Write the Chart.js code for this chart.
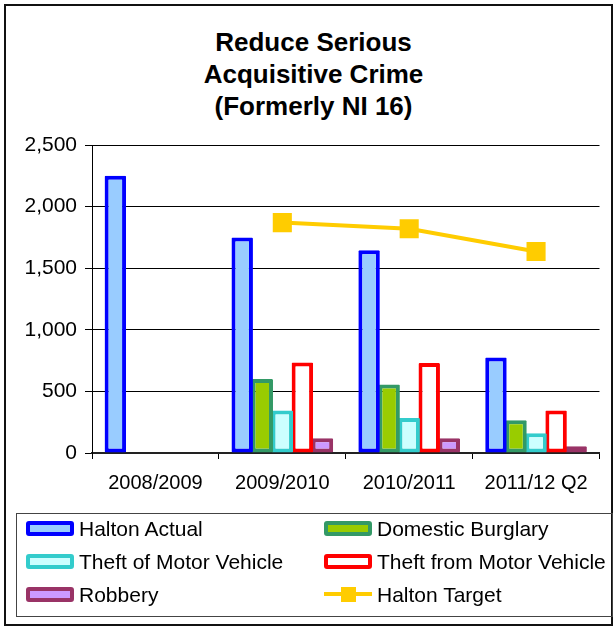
<!DOCTYPE html>
<html>
<head>
<meta charset="utf-8">
<title>Reduce Serious Acquisitive Crime</title>
<script src="https://cdn.jsdelivr.net/npm/chart.js@4"></script>
<style>
    body { margin: 0; background: #fff; font-family: "Liberation Sans", Arial, sans-serif; }
    #wrap { position: relative; width: 613px; height: 629px; overflow: hidden; }
    #frame { position: absolute; left: 4px; top: 4px; width: 609px; height: 622px; box-sizing: border-box; border: 2px solid #111; }
    #title { position: absolute; left: 0; top: 26px; width: 627px; text-align: center; font-weight: bold; font-size: 26px; line-height: 32px; color: #000; }
    #chart { position: absolute; left: 0; top: 0; }
    #legend { position: absolute; left: 16px; top: 513px; width: 597px; height: 104px; box-sizing: border-box; border: 1px solid #444;
              display: grid; grid-template-columns: 298px 298px; grid-auto-rows: 15px; row-gap: 18px; padding: 7px 0 0 9px; }
    .item { display: flex; align-items: center; font-size: 21px; color: #000; white-space: nowrap; }
    .swatch { width: 48px; height: 15px; box-sizing: border-box; border-width: 4px; border-style: solid; border-radius: 3px; margin-right: 5px; flex: none; }
    .lineswatch { position: relative; width: 48px; height: 15px; margin-right: 5px; flex: none; }
    .lineswatch::before { content: ""; position: absolute; left: 0; right: 0; top: 5px; height: 4px; background: var(--c); }
    .lineswatch::after { content: ""; position: absolute; left: 17px; top: 0; width: 15px; height: 15px; background: var(--c); }
</style>
</head>
<body>
<div id="wrap">
    <div id="frame"></div>
    <div id="title">Reduce Serious<br>Acquisitive Crime<br>(Formerly NI 16)</div>
    <canvas id="chart" width="613" height="629"></canvas>
    <div id="legend"></div>
</div>
<script>
const years = ['2008/2009', '2009/2010', '2010/2011', '2011/12 Q2'];

const haltonActual = [2250, 1750, 1645, 775];
const domesticBurglary = [null, 600, 555, 265];
const theftOfVehicle = [null, 345, 285, 160];
const theftFromVehicle = [null, 735, 730, 345];
const robbery = [null, 120, 120, 55];
const haltonTarget = [null, 1870, 1820, 1635];

const yTicks = [0, 500, 1000, 1500, 2000, 2500];

Chart.defaults.font.family = '"Liberation Sans", Arial, sans-serif';
Chart.defaults.color = '#000';

// bars are a little wider than their slot so neighbouring borders touch
function barSet(label, data, border, fill) {
    return {
        type: 'bar',
        label: label,
        data: data,
        borderColor: border,
        backgroundColor: fill,
        borderWidth: 4,
        borderSkipped: false,
        borderRadius: 1,
        categoryPercentage: 0.79,
        barPercentage: 1.07
    };
}

const datasets = [
    barSet('Halton Actual', haltonActual, '#0000ff', '#99ccff'),
    barSet('Domestic Burglary', domesticBurglary, '#339966', '#99cc00'),
    barSet('Theft of Motor Vehicle', theftOfVehicle, '#33cccc', '#ccffff'),
    barSet('Theft from Motor Vehicle', theftFromVehicle, '#ff0000', '#ffffff'),
    barSet('Robbery', robbery, '#993366', '#cc99ff'),
    {
        type: 'line',
        label: 'Halton Target',
        data: haltonTarget,
        borderColor: '#ffcc00',
        backgroundColor: '#ffcc00',
        borderWidth: 4,
        pointStyle: 'rect',
        pointRadius: 13.5,
        pointBorderWidth: 0,
        order: -1
    }
];

const chart = new Chart(document.getElementById('chart').getContext('2d'), {
    data: { labels: years, datasets: datasets },
    options: {
        responsive: false,
        animation: false,
        layout: { padding: { left: 0, right: 12, top: 145, bottom: 126 } },
        plugins: {
            legend: { display: false },
            title: { display: false },
            tooltip: { enabled: false }
        },
        scales: {
            x: {
                grid: { drawOnChartArea: false, drawTicks: true, tickLength: 6, color: '#000', offset: true },
                border: { color: '#222', width: 2 },
                ticks: { font: { size: 20 }, padding: 12, maxRotation: 0 },
                afterFit: (scale) => { scale.height = 50; }
            },
            y: {
                min: yTicks[0],
                max: yTicks[yTicks.length - 1],
                afterBuildTicks: (scale) => { scale.ticks = yTicks.map(v => ({ value: v })); },
                grid: { color: '#000', lineWidth: 1, tickLength: 7 },
                border: { color: '#000', width: 1 },
                ticks: {
                    font: { size: 21 },
                    padding: 8,
                    callback: (v) => v.toLocaleString('en-US')
                },
                afterFit: (scale) => { scale.width = 92; }
            }
        }
    }
});

/* legend in two columns, built from the datasets */
const legend = document.getElementById('legend');
chart.data.datasets.forEach(ds => {
    const item = document.createElement('div');
    item.className = 'item';
    const sw = document.createElement('div');
    if (ds.type === 'line') {
        sw.className = 'lineswatch';
        sw.style.setProperty('--c', ds.borderColor);
    } else {
        sw.className = 'swatch';
        sw.style.borderColor = ds.borderColor;
        sw.style.background = ds.backgroundColor;
    }
    item.appendChild(sw);
    item.appendChild(document.createTextNode(ds.label));
    legend.appendChild(item);
});
</script>
</body>
</html>
